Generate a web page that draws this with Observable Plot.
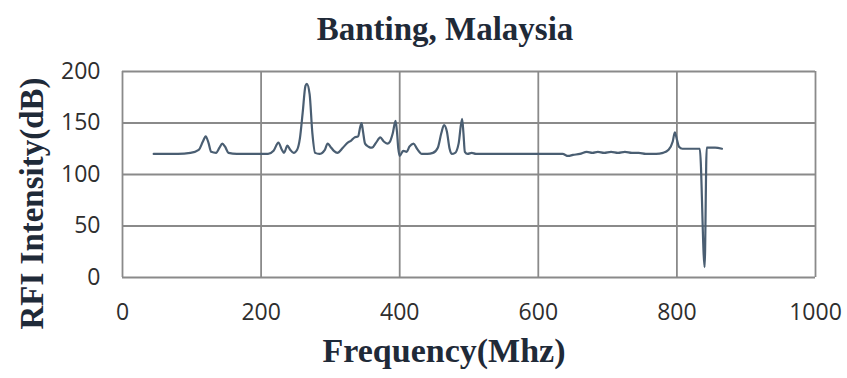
<!DOCTYPE html>
<html>
<head>
<meta charset="utf-8">
<script src="https://cdn.jsdelivr.net/npm/d3@7"></script>
<script src="https://cdn.jsdelivr.net/npm/@observablehq/plot@0.6"></script>
<style>
  html, body { margin: 0; padding: 0; background: #fff; }
  #chart svg { display: block; }
</style>
</head>
<body>
<div id="chart"></div>
<script>
const title = "Banting, Malaysia";
const xLabel = "Frequency(Mhz)";
const yLabel = "RFI Intensity(dB)";
const xTicks = [0, 200, 400, 600, 800, 1000];
const yTicks = [0, 50, 100, 150, 200];

const frequency = [
  45, 60, 80, 98, 110, 116, 120, 124, 128, 135, 140, 144, 148, 153, 165, 180, 200,
  210, 218, 225, 230, 233, 238, 242, 247, 252, 256, 260, 264, 266, 270, 274, 278,
  284, 292, 296, 300, 305, 310, 318, 325, 330, 335, 340, 343, 345, 347, 350, 355,
  360, 366, 372, 377, 382, 386, 390, 394, 396, 398, 400, 405, 410, 414, 420, 425,
  432, 440, 448, 455, 460, 464, 468, 472, 475, 480, 485, 490, 492, 494, 498, 504,
  510, 520, 560, 600, 620, 635, 643, 650, 660, 670, 678, 686, 695, 705, 715, 725,
  735, 745, 755, 770, 780, 788, 794, 797, 800, 803, 808, 820, 833, 840, 843, 855, 865
];
const intensity = [
  120, 120, 120, 121, 124, 132, 137, 131, 122, 121, 126, 130, 127, 121, 120, 120, 120,
  120, 123, 131, 124, 121, 128, 124, 121, 124, 135, 160, 186, 188, 178, 140, 121,
  120, 124, 130, 127, 123, 121, 126, 131, 133, 136, 137, 146, 150, 142, 130, 127,
  126, 131, 136, 132, 130, 132, 140, 152, 142, 125, 118, 123, 122, 127, 130, 125,
  120, 120, 121, 126, 140, 148, 142, 125, 120, 121, 130, 154, 140, 122, 120, 121,
  120, 120, 120, 120, 120, 120, 118, 119, 120, 122, 121, 122, 121, 122, 121, 122,
  121, 121, 120, 120, 121, 124, 132, 141, 134, 127, 125, 125, 125, 10, 126, 126, 125
];

const data = frequency.map((f, i) => ({ f, v: intensity[i] }));

const serif = "'Liberation Serif', 'Times New Roman', serif";
const sans = "'Open Sans', 'Liberation Sans', sans-serif";

const chart = Plot.plot({
  width: 847,
  height: 378,
  marginLeft: 122,
  marginRight: 32,
  marginTop: 71,
  marginBottom: 101,
  style: { background: "#fff", color: "#2e2e2e" },
  x: { domain: [0, 1000], ticks: xTicks },
  y: { domain: [0, 200], ticks: yTicks },
  marks: [
    Plot.gridX(xTicks, { stroke: "#8a8a8a", strokeOpacity: 1, strokeWidth: 1.8 }),
    Plot.gridY(yTicks, { stroke: "#8a8a8a", strokeOpacity: 1, strokeWidth: 1.8 }),
    Plot.axisX(xTicks, { tickSize: 0, tickPadding: 26, fontSize: 23, fontFamily: sans, fontWeight: 500, label: null, tickFormat: d => String(d) }),
    Plot.axisY(yTicks, { tickSize: 0, tickPadding: 22, fontSize: 23, fontFamily: sans, fontWeight: 500, label: null, tickFormat: d => String(d) }),
    Plot.line(data, { x: "f", y: "v", stroke: "#4a5e72", strokeWidth: 2.2, curve: "monotone-x" }),
    Plot.text([title], { frameAnchor: "top", dy: -55, dx: -24, text: d => d, fontSize: 33, fontWeight: "bold", fontFamily: serif, fill: "#1f2a38" }),
    Plot.text([xLabel], { frameAnchor: "bottom", dy: 84, dx: -25, text: d => d, fontSize: 34, fontWeight: "bold", fontFamily: serif, fill: "#1f2a38" }),
    Plot.text([yLabel], { frameAnchor: "left", textAnchor: "middle", dx: -90, dy: 29, rotate: -90, text: d => d, fontSize: 33, fontWeight: "bold", fontFamily: serif, fill: "#1f2a38" })
  ]
});
document.getElementById("chart").append(chart);
</script>
</body>
</html>
